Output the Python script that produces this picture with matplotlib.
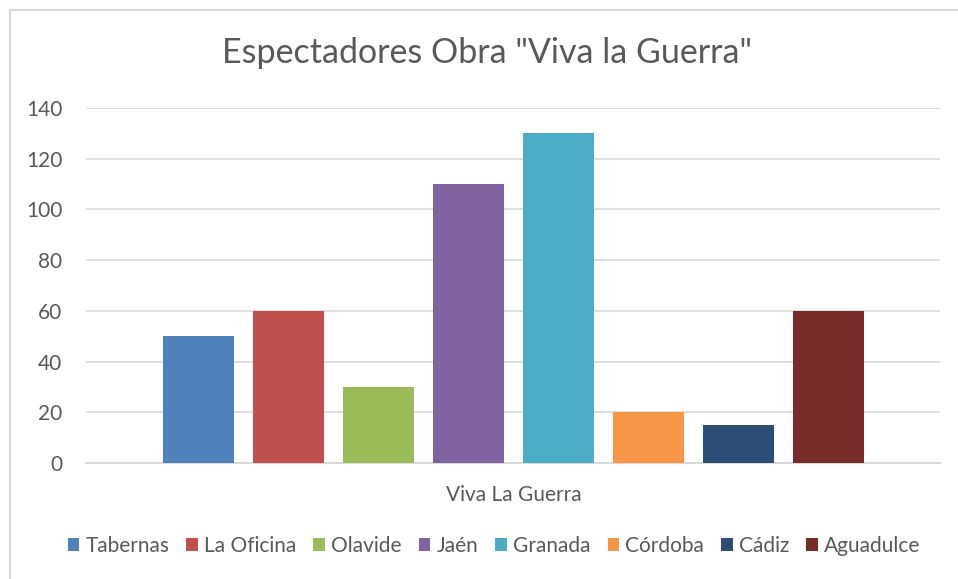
import numpy as np
import matplotlib.pyplot as plt
from matplotlib.lines import Line2D

plt.rcParams['font.family'] = ['Lato', 'DejaVu Sans']

# data
category = "Viva La Guerra"
series = ["Tabernas", "La Oficina", "Olavide", "Jaén", "Granada", "Córdoba", "Cádiz", "Aguadulce"]
values = [50, 60, 30, 110, 130, 20, 15, 60]
colors = ["#4F81BD", "#C0504D", "#9BBB59", "#8064A2", "#4BACC6", "#F79646", "#2C4D75", "#772C2A"]
yticks = [0, 20, 40, 60, 80, 100, 120, 140]

txt = "#595959"

fig = plt.figure(figsize=(9.58, 5.79), dpi=100)
W, H = 958, 579
ax = fig.add_axes([86 / W, (H - 463) / H, (940 - 86) / W, (463 - 108) / H])

# bars, one per series, spaced inside the single category
n = len(series)
offsets = np.arange(n) - (n - 1) / 2
for off, name, v, c in zip(offsets, series, values, colors):
    ax.bar(off, v, width=0.79, color=c, label=name, zorder=3)

ax.set_xlim(-4.75, 4.74)
ax.set_ylim(0, 140)
ax.set_yticks(yticks)
ax.set_xticks([0])
ax.set_xticklabels([category])
ax.tick_params(axis='y', length=0, pad=17, labelsize=15, labelcolor=txt)
ax.tick_params(axis='x', length=0, pad=16, labelsize=15, labelcolor=txt)
ax.grid(axis='y', color="#D9D9D9", linewidth=1.2, zorder=0)
for s in ['top', 'right', 'left']:
    ax.spines[s].set_visible(False)
ax.spines['bottom'].set_color("#D9D9D9")
ax.spines['bottom'].set_linewidth(1.5)

fig.text(487 / W, 1 - 53 / H, 'Espectadores Obra "Viva la Guerra"',
         ha='center', va='center', fontsize=24.5, color=txt)

ax.legend(loc='center', bbox_to_anchor=(494 / W, 1 - 546 / H), bbox_transform=fig.transFigure,
          ncol=n, frameon=False, fontsize=15, labelcolor=txt, handlelength=0.55,
          handleheight=0.55, handletextpad=0.3, columnspacing=0.82, borderaxespad=0)

# chart border (top and left edges visible)
fig.add_artist(Line2D([9.5 / W, 1], [1 - 9.5 / H, 1 - 9.5 / H], transform=fig.transFigure,
                      color="#D9D9D9", linewidth=1.5))
fig.add_artist(Line2D([9.5 / W, 9.5 / W], [0, 1 - 9.5 / H], transform=fig.transFigure,
                      color="#D9D9D9", linewidth=1.5))

fig.savefig("out.png", dpi=100, facecolor="white")
